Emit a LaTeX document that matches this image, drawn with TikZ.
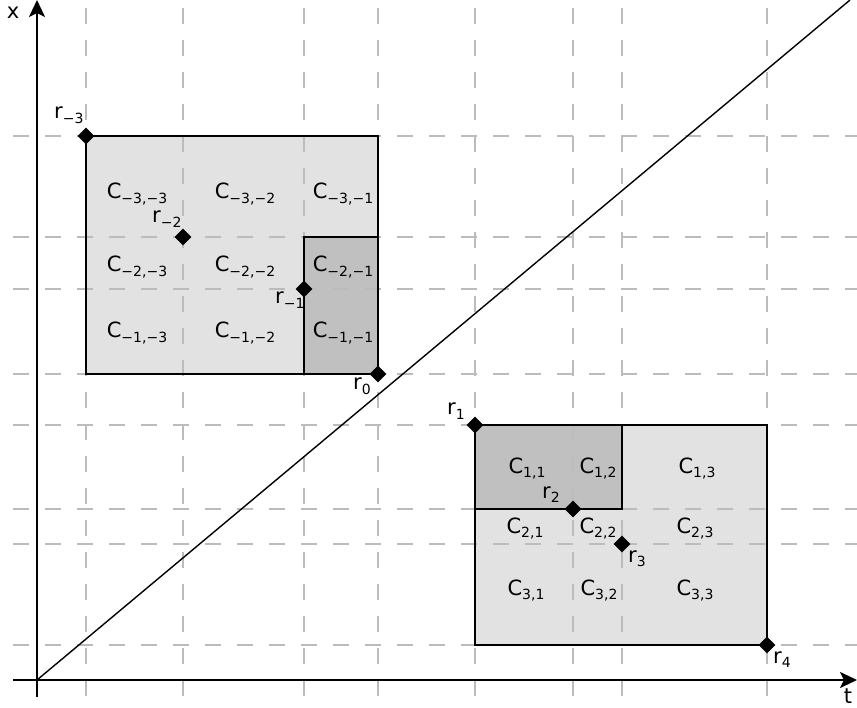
\documentclass[tikz,border=0pt]{standalone}
\usepackage{fontspec}
\setmainfont{DejaVu Sans}
\usetikzlibrary{shapes.geometric,arrows.meta}
\newcommand\sbs[1]{\raisebox{-0.42ex}{\fontsize{14}{14}\selectfont #1}}
\newcommand\cellC[1]{C\sbs{#1}}
\newcommand\rr[1]{r\sbs{#1}}
\definecolor{lightfill}{RGB}{226,226,226}
\definecolor{darkfill}{RGB}{192,192,192}
\definecolor{gridgray}{RGB}{188,188,188}
\begin{document}
\begin{tikzpicture}[x=1pt,y=-1pt,
  every node/.style={font=\fontsize{21}{21}\selectfont, inner sep=0pt},
  gridline/.style={draw=gridgray, line width=1.4pt, dash pattern=on 16pt off 16pt},
  border/.style={draw=black, line width=1.5pt},
  axisline/.style={draw=black, line width=2.4pt, -{Stealth[length=17pt,width=16pt,inset=4pt]}},
  pt/.style={diamond, fill=black, minimum size=17pt, inner sep=0pt},
  celllabel/.style={anchor=base},
  rlabel/.style={anchor=base west}]
\useasboundingbox (0,0) rectangle (857,708);
% fills
\fill[lightfill] (86,136) rectangle (378,374);
\fill[darkfill] (304,237) rectangle (378,374);
\fill[lightfill] (475,425) rectangle (767,645);
\fill[darkfill] (475,425) rectangle (622,509);
% grid
\foreach \gx in {86,183,304,378,475,573,622,767}
  \draw[gridline] (\gx,8) -- (\gx,704);
\foreach \gy in {136,237,289,374,425,509,544,645}
  \draw[gridline] (13,\gy) -- (857,\gy);
% borders
\draw[border] (86,136) rectangle (378,374);
\draw[border] (304,237) rectangle (378,374);
\draw[border] (475,425) rectangle (767,645);
\draw[border] (475,425) rectangle (622,509);
% diagonal and axes
\coordinate (O) at (37,680);
\coordinate (E) at (850,0);
\coordinate (ytop) at (37,0);
\coordinate (ybot) at (37,697);
\coordinate (xleft) at (13,680);
\coordinate (xright) at (857,680);
\draw[line width=1.4pt] (O) -- (E);
\draw[axisline] (ybot) -- (ytop);
\draw[axisline] (xleft) -- (xright);
\node (xlab) at (13,13) {x};
\node (tlab) at (848,696) {t};
% points
\node[pt] (rm3) at (86,136) {};
\node[pt] (rm2) at (183,237) {};
\node[pt] (rm1) at (304,289) {};
\node[pt] (r0) at (378,374) {};
\node[pt] (r1) at (475,425) {};
\node[pt] (r2) at (573,509) {};
\node[pt] (r3) at (622,544) {};
\node[pt] (r4) at (767,645) {};
% point labels
\node[rlabel] (lrm3) at (54,119) {\rr{−3}};
\node[rlabel] (lrm2) at (152,223) {\rr{−2}};
\node[rlabel] (lrm1) at (275,304) {\rr{−1}};
\node[rlabel] (lr0) at (353,390) {\rr{0}};
\node[rlabel] (lr1) at (447,415) {\rr{1}};
\node[rlabel] (lr2) at (542,498) {\rr{2}};
\node[rlabel] (lr3) at (628,562) {\rr{3}};
\node[rlabel] (lr4) at (773,663) {\rr{4}};
% cell labels left
\node[celllabel] (c33) at (137,199) {\cellC{−3,−3}};
\node[celllabel] (c32) at (245,199) {\cellC{−3,−2}};
\node[celllabel] (c31) at (343,199) {\cellC{−3,−1}};
\node[celllabel] (c23) at (137,272) {\cellC{−2,−3}};
\node[celllabel] (c22) at (245,272) {\cellC{−2,−2}};
\node[celllabel] (c21) at (343,272) {\cellC{−2,−1}};
\node[celllabel] (c13) at (137,338) {\cellC{−1,−3}};
\node[celllabel] (c12) at (245,338) {\cellC{−1,−2}};
\node[celllabel] (c11) at (343,338) {\cellC{−1,−1}};
% cell labels right
\node[celllabel] (d11) at (527,473) {\cellC{1,1}};
\node[celllabel] (d12) at (598,473) {\cellC{1,2}};
\node[celllabel] (d13) at (697,473) {\cellC{1,3}};
\node[celllabel] (d21) at (525,533) {\cellC{2,1}};
\node[celllabel] (d22) at (598,533) {\cellC{2,2}};
\node[celllabel] (d23) at (695,533) {\cellC{2,3}};
\node[celllabel] (d31) at (526,595) {\cellC{3,1}};
\node[celllabel] (d32) at (599,595) {\cellC{3,2}};
\node[celllabel] (d33) at (695,595) {\cellC{3,3}};
\end{tikzpicture}
\end{document}
